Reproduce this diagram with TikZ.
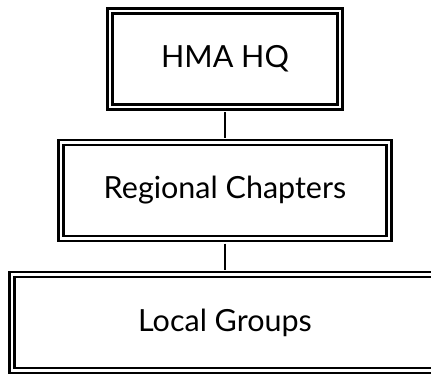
\documentclass[tikz,border=0pt]{standalone}
\usepackage{fontspec}
\setsansfont{Lato}

\tikzset{
    unitbox/.style={rectangle, draw=black, double=white, line width=2.6pt,
        double distance=2.3pt, inner sep=0pt, minimum height=96pt,
        font=\sffamily\fontsize{30.5}{34}\selectfont},
    link/.style={line width=2pt, shorten <=3.7pt, shorten >=3.7pt},
}

\begin{document}
\begin{tikzpicture}[x=1pt,y=1pt]%
        \useasboundingbox (0,0) rectangle (431,373);
        \clip (0,0) rectangle (431,373);
        \node[unitbox, minimum width=230pt] (hq) at (225,314) {HMA HQ};
        \node[unitbox, minimum width=328pt] (regional) at (225,182.5) {Regional Chapters};
        \node[unitbox, minimum width=426pt] (local) at (225,50.5) {Local Groups};
        \draw[link] (hq.south) -- (regional.north);
        \draw[link] (regional.south) -- (local.north);
    \end{tikzpicture}
\end{document}
